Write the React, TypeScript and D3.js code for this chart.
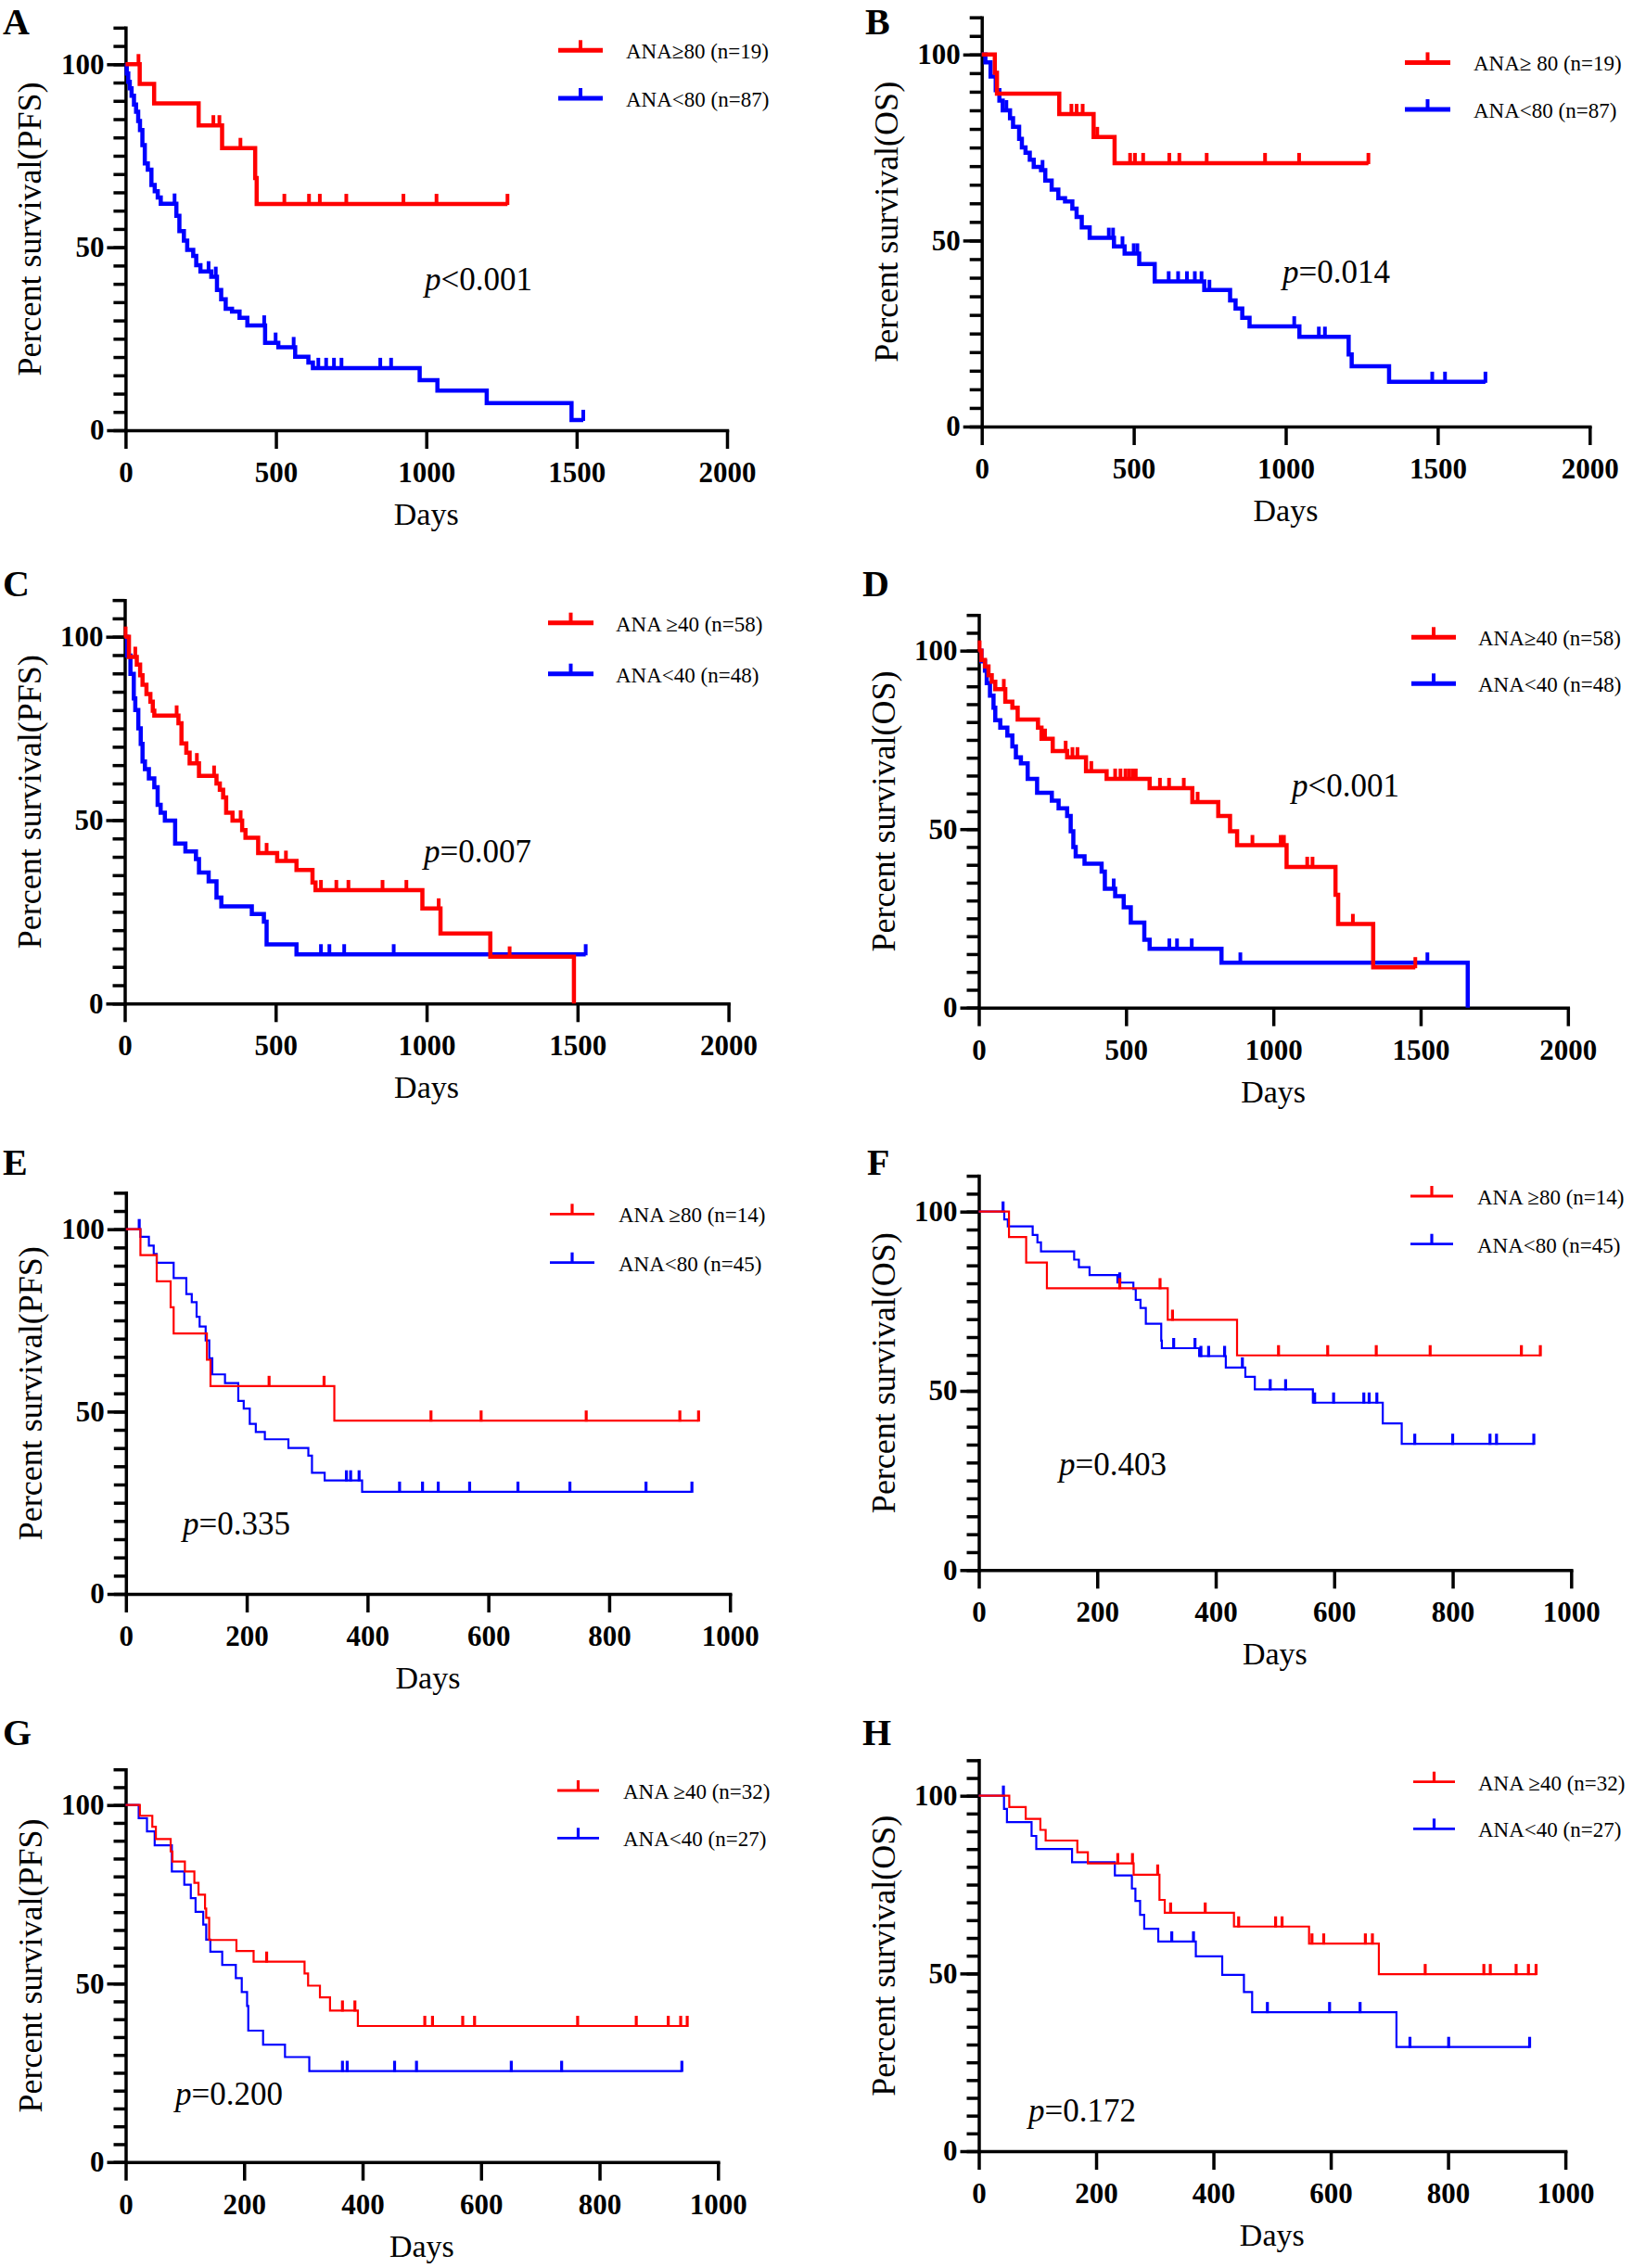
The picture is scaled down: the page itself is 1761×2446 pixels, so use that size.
// @ts-nocheck
import React from "react";
import * as d3 from "d3";

const FONT = '"Liberation Serif", "Times New Roman", serif';
const RED = "#ff0000";
const BLUE = "#0000ff";

// ---- data: [day, percent survival] after each drop, censor days ----
const aRedSteps = [[47, 94.6], [95, 89.3], [243, 83.3], [321, 77.1], [431, 68.9], [436, 61.8]];
const aRedCensored = [43, 292, 312, 382, 528, 610, 646, 734, 924, 1034, 1270];
const aBlueSteps = [[4, 97.5], [9, 95.2], [14, 93.4], [20, 91.4], [28, 89.0], [35, 87.0], [42, 84.5], [48, 82.0], [56, 77.9], [64, 72.9], [74, 71.2], [86, 67.0], [97, 65.3], [107, 63.6], [117, 61.9], [169, 58.6], [179, 54.4], [194, 51.8], [205, 49.3], [225, 47.6], [235, 45.1], [249, 43.4], [285, 41.9], [304, 38.3], [318, 35.8], [333, 33.2], [354, 32.4], [379, 30.7], [405, 28.6], [464, 23.9], [508, 22.7], [564, 20.1], [608, 18.5], [623, 17.0], [978, 13.7], [1037, 10.8], [1201, 7.4], [1483, 2.8]];
const aBlueCensored = [163, 276, 300, 461, 499, 559, 641, 667, 693, 718, 847, 883, 1522];

const bRedSteps = [[43, 95.1], [50, 89.5], [255, 84.0], [368, 77.8], [437, 70.8]];
const bRedCensored = [295, 312, 332, 380, 488, 504, 531, 617, 650, 740, 932, 1044, 1272];
const bBlueSteps = [[12, 97.9], [29, 94.1], [46, 90.4], [58, 87.6], [69, 85.0], [93, 82.9], [103, 80.6], [123, 77.3], [132, 75.0], [144, 73.6], [158, 71.7], [171, 69.8], [195, 68.9], [209, 66.1], [230, 63.7], [252, 61.4], [274, 60.5], [298, 58.6], [312, 56.3], [329, 53.5], [355, 50.7], [435, 48.4], [470, 46.5], [518, 43.7], [569, 39.0], [732, 36.7], [817, 33.9], [835, 31.7], [857, 29.2], [881, 26.9], [1045, 24.1], [1207, 19.4], [1217, 16.2], [1340, 12.0]];
const bBlueCensored = [81, 200, 418, 432, 463, 500, 512, 615, 646, 675, 701, 723, 749, 1028, 1109, 1129, 1482, 1524, 1657];

const cRedSteps = [[14, 94.5], [40, 92.4], [51, 89.5], [59, 86.9], [72, 84.4], [85, 82.3], [93, 79.8], [98, 78.5], [178, 76.4], [188, 70.9], [204, 68.4], [215, 65.5], [246, 62.1], [304, 60.0], [315, 58.3], [326, 56.2], [336, 52.0], [357, 49.9], [389, 47.3], [400, 45.2], [442, 41.0], [505, 38.9], [569, 36.4], [622, 33.0], [632, 30.9], [986, 25.9], [1046, 19.1], [1211, 12.8], [1488, 0]];
const cRedCensored = [3, 35, 172, 239, 296, 384, 470, 534, 650, 701, 741, 854, 933, 1040, 1275];
const cBlueSteps = [[8, 94.9], [19, 89.9], [30, 83.2], [35, 80.0], [45, 75.0], [53, 70.8], [59, 66.0], [67, 63.9], [80, 61.4], [98, 59.0], [109, 54.2], [119, 52.0], [133, 49.9], [167, 43.6], [201, 41.5], [236, 39.4], [246, 35.7], [278, 33.3], [304, 28.9], [320, 26.5], [421, 24.4], [461, 22.3], [470, 16.1], [569, 13.4]];
const cBlueCensored = [650, 678, 727, 891, 1527];

const dRedSteps = [[9, 97.4], [21, 95.6], [33, 93.1], [44, 91.3], [56, 89.2], [90, 85.7], [114, 84.0], [132, 80.7], [201, 78.4], [213, 75.3], [251, 71.9], [300, 70.1], [364, 66.2], [434, 64.1], [580, 61.5], [725, 57.6], [813, 53.7], [853, 49.4], [877, 45.5], [1045, 39.4], [1211, 31.6], [1220, 23.4], [1339, 11.3]];
const dRedCensored = [3, 85, 225, 295, 318, 335, 382, 463, 481, 498, 510, 522, 533, 615, 646, 696, 743, 929, 1025, 1036, 1115, 1133, 1270, 1482];
const dBlueSteps = [[9, 97.0], [21, 94.4], [27, 90.9], [38, 87.4], [50, 84.0], [56, 80.5], [73, 78.4], [97, 76.2], [114, 73.2], [126, 70.1], [143, 68.4], [166, 64.1], [198, 60.2], [248, 58.0], [271, 55.8], [300, 53.7], [312, 49.4], [321, 45.0], [329, 42.4], [359, 40.3], [417, 38.1], [428, 33.3], [463, 31.2], [492, 28.1], [516, 23.8], [562, 19.0], [580, 16.5], [824, 12.6], [1660, 0]];
const dBlueCensored = [458, 647, 673, 723, 888, 1523];

const eRedSteps = [[24, 92.9], [51, 85.7], [74, 78.6], [79, 71.4], [134, 64.2], [140, 57.0], [345, 47.5]];
const eRedCensored = [237, 328, 505, 588, 762, 917, 948];
const eBlueSteps = [[24, 97.9], [38, 95.5], [46, 93.2], [51, 90.8], [79, 86.6], [100, 82.2], [109, 80.0], [117, 76.0], [122, 73.3], [132, 69.5], [138, 64.6], [143, 60.2], [164, 57.8], [186, 52.9], [195, 50.8], [205, 46.6], [215, 44.4], [230, 42.4], [269, 40.0], [302, 37.9], [308, 33.2], [329, 31.1], [391, 28.0]];
const eBlueCensored = [22, 365, 372, 386, 453, 491, 517, 569, 649, 735, 861, 937];

const fRedSteps = [[51, 92.9], [80, 85.8], [115, 78.6], [319, 69.8], [436, 59.9]];
const fRedCensored = [238, 306, 327, 506, 589, 671, 762, 916, 948];
const fBlueSteps = [[43, 97.8], [49, 95.9], [91, 93.5], [99, 91.4], [105, 88.9], [161, 86.6], [169, 84.5], [187, 82.3], [234, 80.2], [261, 78.4], [265, 75.4], [273, 73.1], [282, 68.7], [308, 64.0], [309, 61.9], [372, 59.7], [417, 56.5], [450, 53.9], [466, 50.4], [564, 46.7], [682, 40.9], [714, 35.2]];
const fBlueCensored = [41, 238, 329, 365, 375, 388, 415, 445, 492, 518, 567, 599, 650, 659, 672, 736, 800, 863, 874, 937];

const gRedSteps = [[24, 97.0], [45, 93.9], [51, 90.5], [76, 87.0], [79, 84.2], [100, 81.4], [116, 78.2], [123, 74.9], [134, 71.0], [136, 68.4], [141, 62.2], [187, 59.1], [216, 56.1], [302, 52.8], [308, 49.4], [328, 46.1], [345, 42.4], [392, 38.1]];
const gRedCensored = [238, 366, 387, 505, 518, 569, 589, 763, 862, 916, 937, 948];
const gBlueSteps = [[22, 96.3], [36, 92.6], [49, 88.7], [78, 81.4], [99, 77.7], [110, 73.9], [118, 70.1], [131, 66.5], [136, 62.3], [143, 58.9], [163, 55.2], [186, 51.5], [196, 47.6], [205, 43.7], [207, 36.8], [232, 32.9], [269, 29.4], [310, 25.5]];
const gBlueCensored = [366, 374, 454, 491, 651, 736, 939];

const hRedSteps = [[52, 96.8], [80, 93.5], [105, 90.4], [114, 87.4], [168, 84.1], [186, 81.0], [264, 77.8], [308, 70.7], [317, 67.1], [435, 63.2], [563, 58.4], [682, 49.8]];
const hRedCensored = [237, 262, 305, 327, 386, 443, 506, 517, 568, 588, 659, 671, 761, 861, 872, 916, 937, 950];
const hBlueSteps = [[43, 96.3], [48, 92.6], [90, 88.7], [98, 85.0], [159, 81.3], [232, 77.6], [261, 73.9], [267, 70.4], [275, 66.5], [282, 62.6], [306, 59.0], [370, 54.8], [415, 49.6], [452, 44.8], [466, 39.1], [712, 29.3]];
const hBlueCensored = [42, 329, 366, 492, 598, 650, 735, 801, 939];

const longTicks = [0, 500, 1000, 1500, 2000];
const shortTicks = [0, 200, 400, 600, 800, 1000];
const yMajorTicks = [0, 50, 100];

const legendLabels = {
  A: ["ANA≥80 (n=19)", "ANA<80 (n=87)"],
  B: ["ANA≥ 80 (n=19)", "ANA<80 (n=87)"],
  C: ["ANA ≥40 (n=58)", "ANA<40 (n=48)"],
  D: ["ANA≥40 (n=58)", "ANA<40 (n=48)"],
  E: ["ANA ≥80 (n=14)", "ANA<80 (n=45)"],
  F: ["ANA ≥80 (n=14)", "ANA<80 (n=45)"],
  G: ["ANA ≥40 (n=32)", "ANA<40 (n=27)"],
  H: ["ANA ≥40 (n=32)", "ANA<40 (n=27)"],
};
const pValues = { A: "<0.001", B: "=0.014", C: "=0.007", D: "<0.001", E: "=0.335", F: "=0.403", G: "=0.200", H: "=0.172" };

// layout of each panel (pixels)
const panels = [
  { id: "A", lx: 3, ly: 37, x0: 135.4, x1: 784, xMax: 2000, ticks: longTicks, y0: 464, y100: 69.3, title: "Percent survival(PFS)", thick: true, leg: [602, 650, 54.3, 106, 675], p: [458, 313], red: [aRedSteps, aRedCensored], blue: [aBlueSteps, aBlueCensored] },
  { id: "B", lx: 933, ly: 37, x0: 1058.7, x1: 1714.3, xMax: 2000, ticks: longTicks, y0: 460, y100: 58.8, title: "Percent survival(OS)", thick: true, leg: [1515, 1564, 67.4, 118, 1589], p: [1383, 305], red: [bRedSteps, bRedCensored], blue: [bBlueSteps, bBlueCensored] },
  { id: "C", lx: 3, ly: 643, x0: 134.5, x1: 785.6, xMax: 2000, ticks: longTicks, y0: 1082.3, y100: 686.7, title: "Percent survival(PFS)", thick: true, leg: [591, 640, 671.7, 726.7, 664], p: [457, 930], red: [cRedSteps, cRedCensored], blue: [cBlueSteps, cBlueCensored] },
  { id: "D", lx: 930, ly: 643, x0: 1055.5, x1: 1690.8, xMax: 2000, ticks: longTicks, y0: 1086.7, y100: 701.7, title: "Percent survival(OS)", thick: true, leg: [1522, 1570, 687.3, 737.3, 1594], p: [1393, 859], red: [dRedSteps, dRedCensored], blue: [dBlueSteps, dBlueCensored] },
  { id: "E", lx: 3, ly: 1267, x0: 135.8, x1: 787.2, xMax: 1000, ticks: shortTicks, y0: 1719, y100: 1325.7, title: "Percent survival(PFS)", thick: false, leg: [593, 641, 1309.3, 1361.7, 667], p: [197, 1655], red: [eRedSteps, eRedCensored], blue: [eBlueSteps, eBlueCensored] },
  { id: "F", lx: 935, ly: 1267, x0: 1055.5, x1: 1694.3, xMax: 1000, ticks: shortTicks, y0: 1693.3, y100: 1306.7, title: "Percent survival(OS)", thick: false, leg: [1521, 1567, 1290, 1341.7, 1593], p: [1142, 1591], red: [fRedSteps, fRedCensored], blue: [fBlueSteps, fBlueCensored] },
  { id: "G", lx: 3, ly: 1882, x0: 135.5, x1: 774.3, xMax: 1000, ticks: shortTicks, y0: 2331.7, y100: 1946.7, title: "Percent survival(PFS)", thick: false, leg: [601, 646, 1931, 1982.3, 672], p: [189, 2270], red: [gRedSteps, gRedCensored], blue: [gBlueSteps, gBlueCensored] },
  { id: "H", lx: 930, ly: 1882, x0: 1055.5, x1: 1688.1, xMax: 1000, ticks: shortTicks, y0: 2320, y100: 1936.7, title: "Percent survival(OS)", thick: false, leg: [1524, 1569, 1921.7, 1972.3, 1594], p: [1109, 2288], red: [hRedSteps, hRedCensored], blue: [hBlueSteps, hBlueCensored] },
];

const survivalAt = (steps, t) => {
  let s = 100;
  steps.forEach(([d, v]) => { if (d <= t) s = v; });
  return s;
};

const styleAxis = (sel) => {
  sel.attr("font-family", FONT).attr("font-size", 31).attr("font-weight", "bold");
  sel.selectAll("line").attr("stroke", "#000").attr("stroke-width", 3.5);
  sel.selectAll("path").attr("stroke", "#000").attr("stroke-width", 3.5).attr("stroke-linecap", "square");
  sel.selectAll("text").attr("fill", "#000");
};

const SurvivalFigure = () => {
  const svgRef = React.useRef(null);

  React.useEffect(() => {
    const svgEl = d3.select(svgRef.current);
    svgEl.selectAll("*").remove();

    panels.forEach((p) => {
      const g = svgEl.append("g");
      const y110 = p.y0 - 1.1 * (p.y0 - p.y100);
      const x = d3.scaleLinear().domain([0, p.xMax]).range([p.x0, p.x1]);
      const y = d3.scaleLinear().domain([0, 110]).range([p.y0, y110]);
      const lw = p.thick ? 4.5 : 2.2;
      const cw = p.thick ? 4 : 3.2;

      // Y minor ticks
      const yMinor = g.append("g")
        .attr("transform", `translate(${p.x0},0)`)
        .call(d3.axisLeft(y).tickValues(d3.range(0, 111, 5)).tickSize(13).tickSizeOuter(0).tickFormat(() => ""));
      yMinor.select(".domain").remove();
      styleAxis(yMinor);

      // Y major ticks with labels
      const yMajor = g.append("g")
        .attr("transform", `translate(${p.x0},0)`)
        .call(d3.axisLeft(y).tickValues(yMajorTicks).tickSize(20).tickPadding(3).tickSizeOuter(0));
      styleAxis(yMajor);

      // X axis
      const xAxis = g.append("g")
        .attr("transform", `translate(0,${p.y0})`)
        .call(d3.axisBottom(x).tickValues(p.ticks).tickSize(20).tickPadding(14).tickSizeOuter(0).tickFormat(d3.format("d")));
      styleAxis(xAxis);

      // curves
      const line = d3.line()
        .x((d) => x(d[0]))
        .y((d) => y(d[1]))
        .curve(d3.curveStepAfter);

      [[p.blue, BLUE], [p.red, RED]].forEach(([[steps, censored], color]) => {
        const last = steps[steps.length - 1];
        const end = Math.max(last[0], d3.max(censored));
        const pts = [[0, 100], ...steps, [end, last[1]]];
        g.append("path")
          .attr("d", line(pts))
          .attr("fill", "none")
          .attr("stroke", color)
          .attr("stroke-width", lw);
        g.append("g")
          .selectAll("line")
          .data(censored)
          .enter()
          .append("line")
          .attr("x1", (d) => x(d))
          .attr("x2", (d) => x(d))
          .attr("y1", (d) => y(survivalAt(steps, d)) + 1)
          .attr("y2", (d) => y(survivalAt(steps, d)) - 11)
          .attr("stroke", color)
          .attr("stroke-width", cw);
      });

      // legend
      const [lx1, lx2, ly1, ly2, tx] = p.leg;
      [[ly1, RED, legendLabels[p.id][0]], [ly2, BLUE, legendLabels[p.id][1]]].forEach(([ly, color, label]) => {
        g.append("line").attr("x1", lx1).attr("x2", lx2).attr("y1", ly).attr("y2", ly)
          .attr("stroke", color).attr("stroke-width", p.thick ? 5 : 2.8);
        g.append("line").attr("x1", (lx1 + lx2) / 2).attr("x2", (lx1 + lx2) / 2).attr("y1", ly).attr("y2", ly - 11)
          .attr("stroke", color).attr("stroke-width", p.thick ? 4 : 3.2);
        g.append("text").attr("x", tx).attr("y", ly + 9)
          .attr("font-family", FONT).attr("font-size", 23).text(label);
      });

      // p value
      const pt = g.append("text").attr("x", p.p[0]).attr("y", p.p[1])
        .attr("font-family", FONT).attr("font-size", 35);
      pt.append("tspan").attr("font-style", "italic").text("p");
      pt.append("tspan").text(pValues[p.id]);

      // axis titles
      g.append("text")
        .attr("x", (p.x0 + p.x1) / 2).attr("y", p.y0 + 102)
        .attr("text-anchor", "middle")
        .attr("font-family", FONT).attr("font-size", 34)
        .text("Days");
      g.append("text")
        .attr("transform", `translate(${p.x0 - 91},${(p.y0 + y110) / 2}) rotate(-90)`)
        .attr("text-anchor", "middle")
        .attr("font-family", FONT).attr("font-size", 36)
        .text(p.title);

      // panel letter
      g.append("text").attr("x", p.lx).attr("y", p.ly)
        .attr("font-family", FONT).attr("font-size", 40).attr("font-weight", "bold")
        .text(p.id);
    });
  }, []);

  return (
    <svg
      ref={svgRef}
      width={1761}
      height={2446}
      style={{ position: "absolute", left: 0, top: 0, background: "#fff" }}
    />
  );
};

export default function App() {
  return <SurvivalFigure />;
}
